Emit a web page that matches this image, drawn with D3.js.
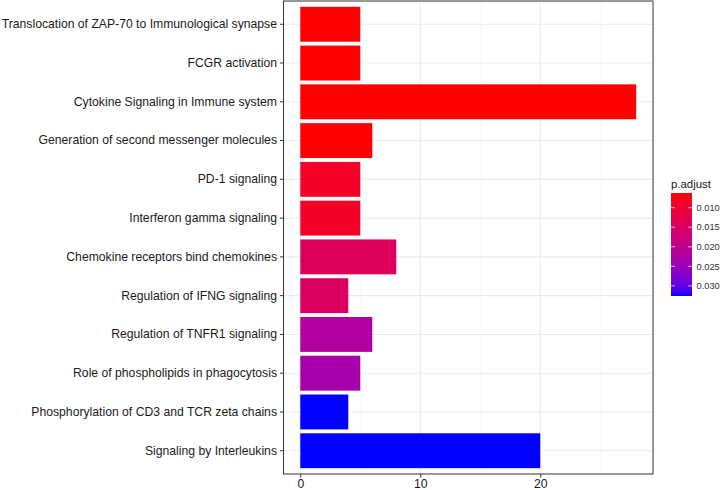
<!DOCTYPE html>
<html><head><meta charset="utf-8">
<script src="https://cdn.jsdelivr.net/npm/d3@7"></script>
<style>body{margin:0;background:#fff;} text{font-family:"Liberation Sans",Arial,sans-serif;}</style>
</head><body><svg id="c" width="720" height="490"></svg>
<script>
const categories = ["Translocation of ZAP-70 to Immunological synapse","FCGR activation","Cytokine Signaling in Immune system","Generation of second messenger molecules","PD-1 signaling","Interferon gamma signaling","Chemokine receptors bind chemokines","Regulation of IFNG signaling","Regulation of TNFR1 signaling","Role of phospholipids in phagocytosis","Phosphorylation of CD3 and TCR zeta chains","Signaling by Interleukins"];
const counts = [5,5,28,6,5,5,8,4,6,5,4,20];
const padj = [0.0063,0.0063,0.0063,0.0063,0.0088,0.0088,0.0142,0.0147,0.0220,0.0234,0.0326,0.0326];
const xTicks = [0,10,20];
const legendTicks = [0.010,0.015,0.020,0.025,0.030];

const svg = d3.select("#c");
const L=283.5, R=653, T=1, B=474;
const x = d3.scaleLinear().domain([-1.4,29.4]).range([L,R]);
const y = d3.scaleBand().domain(categories).range([T,B]).paddingInner(0.1).paddingOuter(0.15);
const pMin=0.0063, pMax=0.0326;
const color = d3.scaleLinear().domain([pMin,pMax]).range(["red","blue"]).interpolate(d3.interpolateLab);

const g = svg.append("g");
[5,15,25].forEach(v=>g.append("line").attr("x1",x(v)).attr("x2",x(v)).attr("y1",T).attr("y2",B).attr("stroke","#f2f2f2").attr("stroke-width",0.6));
xTicks.forEach(v=>g.append("line").attr("x1",x(v)).attr("x2",x(v)).attr("y1",T).attr("y2",B).attr("stroke","#ebebeb").attr("stroke-width",1.1));
categories.forEach(c=>g.append("line").attr("x1",L).attr("x2",R).attr("y1",y(c)+y.bandwidth()/2).attr("y2",y(c)+y.bandwidth()/2).attr("stroke","#ebebeb").attr("stroke-width",1.1));

g.selectAll("rect.bar").data(categories).enter().append("rect").attr("class","bar")
 .attr("x",x(0)).attr("y",d=>y(d)).attr("height",y.bandwidth())
 .attr("width",(d,i)=>x(counts[i])-x(0)).attr("fill",(d,i)=>color(padj[i]));

g.append("rect").attr("x",L).attr("y",T).attr("width",R-L).attr("height",B-T).attr("fill","none").attr("stroke","#333").attr("stroke-width",1);

const ya = svg.append("g").attr("transform",`translate(${L},0)`).call(d3.axisLeft(y).tickSize(3.5).tickPadding(3));
ya.select(".domain").remove();
ya.selectAll(".tick line").attr("stroke","#333");
ya.selectAll(".tick text").attr("fill","#1a1a1a").style("font-size","12.2px").attr("font-family","Liberation Sans, Arial, sans-serif");
const xa = svg.append("g").attr("transform",`translate(0,${B})`).call(d3.axisBottom(x).tickValues(xTicks).tickSize(3.5).tickPadding(2));
xa.select(".domain").remove();
xa.selectAll(".tick line").attr("stroke","#333");
xa.selectAll(".tick text").attr("fill","#1a1a1a").style("font-size","12.2px").attr("font-family","Liberation Sans, Arial, sans-serif");

const lx=671, lw=21, lt=193, lb=296;
const ly = d3.scaleLinear().domain([0.00625,0.0326]).range([lt,lb]);
const defs = svg.append("defs");
const grad = defs.append("linearGradient").attr("id","gr").attr("x1",0).attr("y1",0).attr("x2",0).attr("y2",1);
d3.range(0,1.0001,0.05).forEach(t=>grad.append("stop").attr("offset",t).attr("stop-color",d3.interpolateLab("red","blue")(t)));
svg.append("rect").attr("x",lx).attr("y",lt).attr("width",lw).attr("height",lb-lt).attr("fill","url(#gr)");
legendTicks.forEach(v=>{
  svg.append("line").attr("x1",lx).attr("x2",lx+4).attr("y1",ly(v)).attr("y2",ly(v)).attr("stroke","#fff").attr("stroke-opacity",0.7);
  svg.append("line").attr("x1",lx+lw-4).attr("x2",lx+lw).attr("y1",ly(v)).attr("y2",ly(v)).attr("stroke","#fff").attr("stroke-opacity",0.7);
  svg.append("text").attr("x",lx+lw+4.5).attr("y",ly(v)).attr("dy","0.35em").attr("fill","#333").style("font-size","9.3px").text(v.toFixed(3));
});
svg.append("text").attr("x",lx).attr("y",188).attr("fill","#1a1a1a").style("font-size","11.4px").text("p.adjust");
</script></body></html>
